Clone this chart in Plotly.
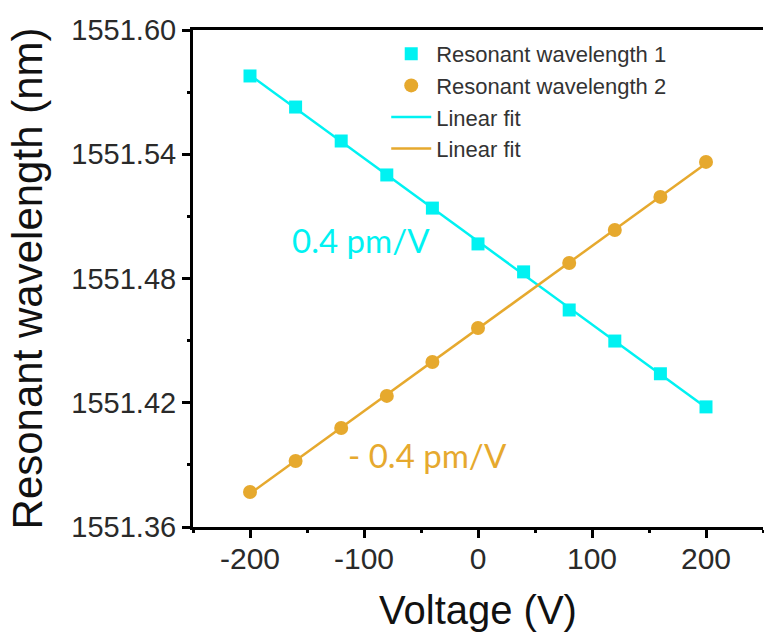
import numpy as np
import plotly.graph_objects as go

voltage = [-200, -160, -120, -80, -40, 0, 40, 80, 120, 160, 200]
wl1 = [1551.5778, 1551.5628, 1551.5464, 1551.5300, 1551.5140, 1551.4967,
       1551.4832, 1551.4648, 1551.4498, 1551.4340, 1551.4180]
wl2 = [1551.3769, 1551.3919, 1551.4078, 1551.4233, 1551.4397, 1551.4561,
       None, 1551.4875, 1551.5034, 1551.5194, 1551.5363]

x_ticks = [-200, -100, 0, 100, 200]
x_ticklabels = ["-200", "-100", "0", "100", "200"]
y_ticks = [1551.36, 1551.42, 1551.48, 1551.54, 1551.60]
y_ticklabels = ["1551.36", "1551.42", "1551.48", "1551.54", "1551.60"]

cyan = "#00F2F2"
orange = "#E6A92E"

v = np.array(voltage, dtype=float)
w1 = np.array(wl1, dtype=float)
m2 = np.array([w is not None for w in wl2])
w2 = np.array([w if w is not None else np.nan for w in wl2], dtype=float)
p1 = np.polyfit(v, w1, 1)
p2 = np.polyfit(v[m2], w2[m2], 1)
fx = np.array([-200, 200], dtype=float)

fig = go.Figure()
fig.add_trace(go.Scatter(x=fx, y=np.polyval(p1, fx), mode="lines", name="Linear fit",
                         line=dict(color=cyan, width=2.5), legendrank=3))
fig.add_trace(go.Scatter(x=fx, y=np.polyval(p2, fx), mode="lines", name="Linear fit",
                         line=dict(color=orange, width=2.5), legendrank=4))
fig.add_trace(go.Scatter(x=voltage, y=wl1, mode="markers", name="Resonant wavelength 1",
                         marker=dict(symbol="square", size=13, color=cyan), legendrank=1))
fig.add_trace(go.Scatter(x=voltage, y=wl2, mode="markers", name="Resonant wavelength 2",
                         marker=dict(symbol="circle", size=14, color=orange), legendrank=2))

fig.add_annotation(x=-103, y=1551.4986, text="0.4 pm/V", showarrow=False,
                   font=dict(family="Lato", size=33, color=cyan))
fig.add_annotation(x=-44, y=1551.3948, text="- 0.4 pm/V", showarrow=False,
                   font=dict(family="Lato", size=33, color=orange))

fig.update_layout(
    width=764, height=641,
    margin=dict(l=193, r=1, t=30, b=114),
    paper_bgcolor="white", plot_bgcolor="white",
    font=dict(family="Liberation Sans, Arial", color="#222222"),
    showlegend=True,
    legend=dict(x=0.339, y=0.994, xanchor="left", yanchor="top",
                traceorder="normal", bgcolor="rgba(0,0,0,0)",
                font=dict(size=22, family="Liberation Sans, Arial", color="#333333"),
                tracegroupgap=0, itemwidth=40),
    xaxis=dict(range=[-250, 250], tickvals=x_ticks, ticktext=x_ticklabels,
               ticks="outside", ticklen=8, tickwidth=2.5,
               tickcolor="black", showline=True, linecolor="black", linewidth=3, mirror=True,
               showgrid=False, zeroline=False, ticklabelstandoff=-5,
               tickfont=dict(size=30, color="#2a2a2a"),
               minor=dict(tickvals=[-250, -150, -50, 50, 150, 250], ticks="outside", ticklen=3,
                          tickwidth=2.5, tickcolor="black", showgrid=False),
               title=dict(text="Voltage (V)", font=dict(size=40, color="#111111"), standoff=22)),
    yaxis=dict(range=[1551.36, 1551.60], tickvals=y_ticks, ticktext=y_ticklabels,
               ticks="outside", ticklen=8, tickwidth=2.5, tickcolor="black",
               showline=True, linecolor="black", linewidth=3, showgrid=False, zeroline=False,
               tickfont=dict(size=29, color="#2a2a2a"),
               minor=dict(tickvals=[1551.39, 1551.45, 1551.51, 1551.57], ticks="outside",
                          ticklen=3, tickwidth=2.5, tickcolor="black", showgrid=False),
               title=dict(text="Resonant wavelength (nm)", font=dict(size=42, color="#111111"),
                          standoff=16)),
)

fig.write_html("out.html")
